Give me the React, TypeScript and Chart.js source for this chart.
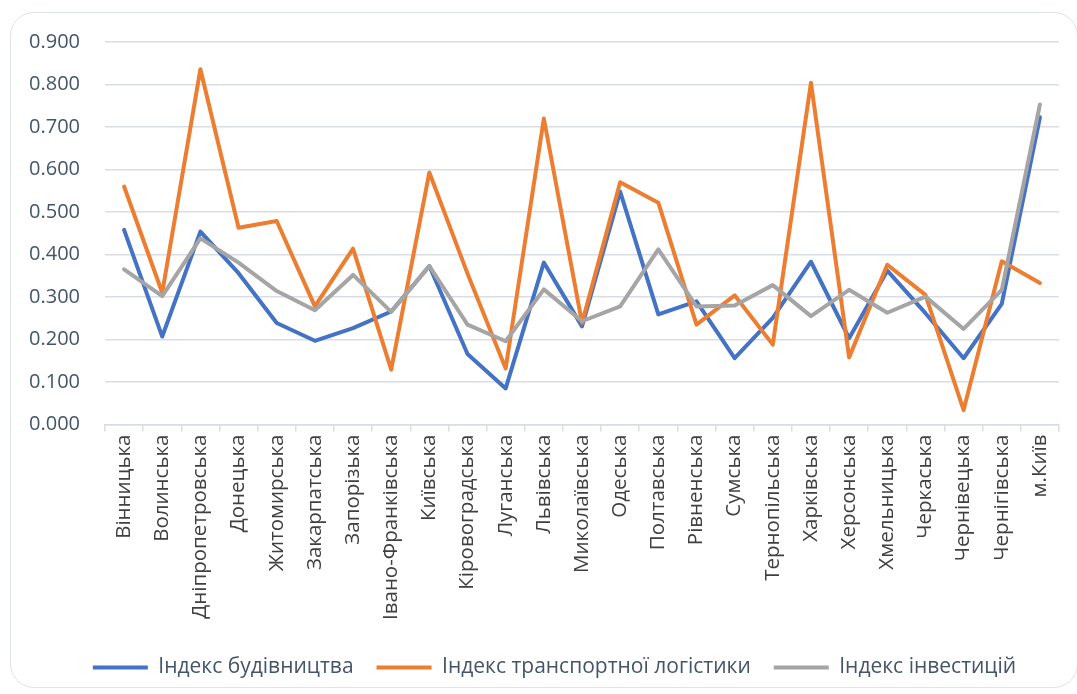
import React, { useEffect, useRef } from "react";
import { Chart, registerables } from "chart.js";

Chart.register(...registerables);

const regions = [
  "Вінницька", "Волинська", "Дніпропетровська", "Донецька", "Житомирська",
  "Закарпатська", "Запорізька", "Івано-Франківська", "Київська", "Кіровоградська",
  "Луганська", "Львівська", "Миколаївська", "Одеська", "Полтавська",
  "Рівненська", "Сумська", "Тернопільська", "Харківська", "Херсонська",
  "Хмельницька", "Черкаська", "Чернівецька", "Чернігівська", "м.Київ",
];

const construction = [
  0.458, 0.207, 0.454, 0.356, 0.239, 0.197, 0.227, 0.266, 0.373, 0.166,
  0.085, 0.381, 0.231, 0.548, 0.259, 0.290, 0.156, 0.251, 0.383, 0.203,
  0.362, 0.262, 0.156, 0.284, 0.723,
];

const logistics = [
  0.560, 0.310, 0.836, 0.463, 0.479, 0.278, 0.414, 0.129, 0.593, 0.355,
  0.132, 0.720, 0.239, 0.570, 0.522, 0.235, 0.304, 0.188, 0.804, 0.158,
  0.376, 0.305, 0.034, 0.384, 0.333,
];

const investment = [
  0.365, 0.302, 0.438, 0.381, 0.314, 0.269, 0.352, 0.265, 0.373, 0.235,
  0.196, 0.318, 0.243, 0.278, 0.412, 0.278, 0.280, 0.328, 0.255, 0.317,
  0.263, 0.301, 0.225, 0.317, 0.753,
];

const seriesNames = ["Індекс будівництва", "Індекс транспортної логістики", "Індекс інвестицій"];
const seriesColors = ["#4472C4", "#ED7D31", "#A5A5A5"];
const yMin = 0;
const yMax = 0.9;
const yStep = 0.1;

const FONT = "'Open Sans', sans-serif";

const shiftLegend = {
  id: "shiftLegend",
  afterLayout(chart: any) {
    const l = chart.legend;
    if (l) {
      l.left += 23;
      l.right += 23;
    }
  },
};

export default function App() {
  const ref = useRef<HTMLCanvasElement>(null);

  useEffect(() => {
    const seriesData = [construction, logistics, investment];
    const chart = new Chart(ref.current as HTMLCanvasElement, {
      type: "line",
      data: {
        labels: regions,
        datasets: seriesData.map((d, i) => ({
          label: seriesNames[i],
          data: d,
          borderColor: seriesColors[i],
          backgroundColor: seriesColors[i],
          borderWidth: 4,
          pointRadius: 0,
          pointHoverRadius: 0,
          tension: 0,
          borderJoinStyle: "round" as const,
          borderCapStyle: "round" as const,
          order: 3 - i,
        })),
      },
      plugins: [shiftLegend],
      options: {
        responsive: false,
        animation: false,
        layout: { padding: { left: 4, right: 18, top: 42, bottom: 6 } },
        plugins: {
          tooltip: { enabled: false },
          legend: {
            position: "bottom",
            labels: {
              usePointStyle: true,
              pointStyle: "line",
              pointStyleWidth: 55,
              padding: 23,
              color: "#44546a",
              font: { family: FONT, size: 21 },
              sort: (a: any, b: any) => a.datasetIndex - b.datasetIndex,
            },
          },
        },
        scales: {
          x: {
            offset: true,
            grid: {
              offset: true,
              drawOnChartArea: false,
              drawTicks: true,
              tickLength: 7,
              color: "#d9dee6",
              lineWidth: 1.5,
            },
            border: { color: "#d9dee6", width: 1.5 },
            ticks: {
              autoSkip: false,
              minRotation: 90,
              maxRotation: 90,
              padding: 3,
              color: "#404040",
              font: { family: FONT, size: 20.5 },
            },
            afterFit: (scale: any) => {
              scale.height += 11;
              scale.paddingLeft = 0;
              scale.paddingRight = 0;
            },
          },
          y: {
            min: yMin,
            max: yMax,
            ticks: {
              stepSize: yStep,
              padding: 25,
              color: "#44546a",
              font: { family: FONT, size: 20 },
              callback: (v: any) => Number(v).toFixed(3),
            },
            grid: { color: "#d9dee6", lineWidth: 1.5, drawTicks: false },
            border: { display: false },
          },
        },
      },
    });
    return () => chart.destroy();
  }, []);

  return (
    <div style={{ position: "fixed", left: 0, top: 0, width: 1077, height: 694, background: "#fff" }}>
      <div
        style={{
          position: "absolute",
          left: 10,
          top: 12,
          width: 1068,
          height: 676,
          border: "1.5px solid #dfe3ea",
          borderRadius: 24,
          boxSizing: "border-box",
        }}
      />
      <canvas
        ref={ref}
        width={1077}
        height={694}
        style={{ position: "absolute", left: 0, top: 0, width: 1077, height: 694 }}
      />
    </div>
  );
}
